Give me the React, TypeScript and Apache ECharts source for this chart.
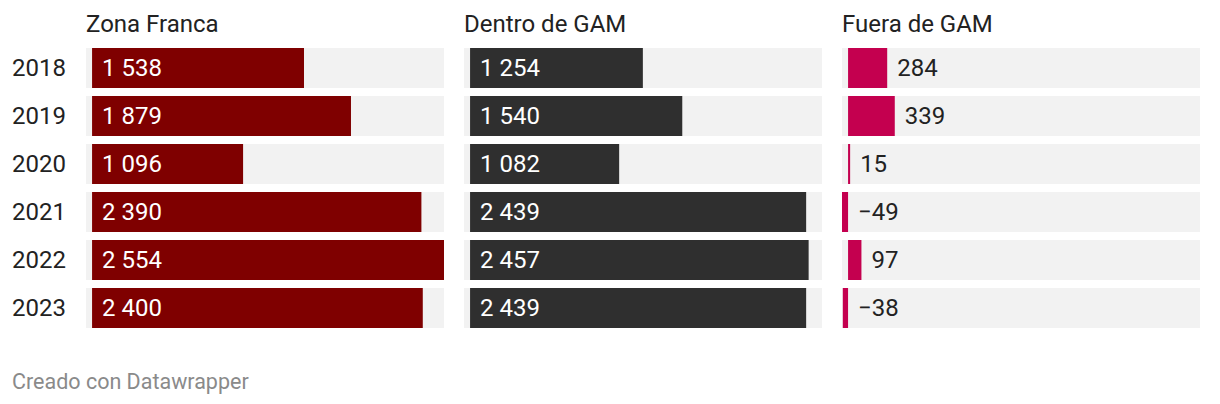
import React, { useEffect, useRef } from "react";
import * as echarts from "echarts";

const years = ["2018", "2019", "2020", "2021", "2022", "2023"];
const zonaFranca = [1538, 1879, 1096, 2390, 2554, 2400];
const dentroGAM = [1254, 1540, 1082, 2439, 2457, 2439];
const fueraGAM = [284, 339, 15, -49, 97, -38];
const panelTitles = ["Zona Franca", "Dentro de GAM", "Fuera de GAM"];
const panelColors = ["#7f0000", "#2f2f2f", "#c4004f"];
const footer = "Creado con Datawrapper";

const FONT = "Roboto, 'Noto Sans', sans-serif";
const FS = 24;

function fmt(v: number): string {
  const s = Math.abs(v).toString().replace(/\B(?=(\d{3})+(?!\d))/g, " ");
  return (v < 0 ? "\u2212" : "") + s;
}

export default function App() {
  const ref = useRef<HTMLDivElement>(null);
  useEffect(() => {
    if (!ref.current) return;
    const chart = echarts.init(ref.current, undefined, { renderer: "svg" });
    const lefts = [86, 464, 842];
    const datas = [zonaFranca, dentroGAM, fueraGAM];
    const grids = lefts.map((l) => ({ left: l, width: 358, top: 44, height: 288 }));
    const xAxes = lefts.map((_, i) => ({
      type: "value",
      gridIndex: i,
      min: -44,
      max: 2554,
      show: false,
    }));
    const yAxes = lefts.map((_, i) => ({
      type: "category",
      gridIndex: i,
      data: years,
      inverse: true,
      axisLine: { show: false },
      axisTick: { show: false },
      splitLine: { show: false },
      axisLabel: {
        show: i === 0,
        margin: 20,
        fontFamily: FONT,
        fontSize: FS,
        color: "#222",
      },
    }));
    const series = datas.map((d, i) => ({
      type: "bar",
      xAxisIndex: i,
      yAxisIndex: i,
      data: d,
      barWidth: 40,
      itemStyle: { color: panelColors[i] },
      showBackground: true,
      backgroundStyle: { color: "#f2f2f2" },
      label: {
        show: true,
        position: i === 2 ? "right" : "insideLeft",
        distance: 10,
        fontFamily: FONT,
        fontSize: FS,
        color: i === 2 ? "#222" : "#ffffff",
        formatter: (p: any) => fmt(p.value),
      },
    }));
    chart.setOption({
      animation: false,
      grid: grids,
      xAxis: xAxes,
      yAxis: yAxes,
      series,
      graphic: [
        ...panelTitles.map((t, i) => ({
          type: "text",
          left: lefts[i],
          top: 12,
          style: { text: t, fontFamily: FONT, fontSize: FS, fill: "#222" },
        })),
        {
          type: "text",
          left: 12,
          top: 370,
          style: { text: footer, fontFamily: FONT, fontSize: 21.5, fill: "#8a8a8a" },
        },
      ],
    });
    return () => chart.dispose();
  }, []);
  return (
    <div
      ref={ref}
      style={{ position: "fixed", left: 0, top: 0, width: 1220, height: 404, background: "#fff" }}
    />
  );
}
